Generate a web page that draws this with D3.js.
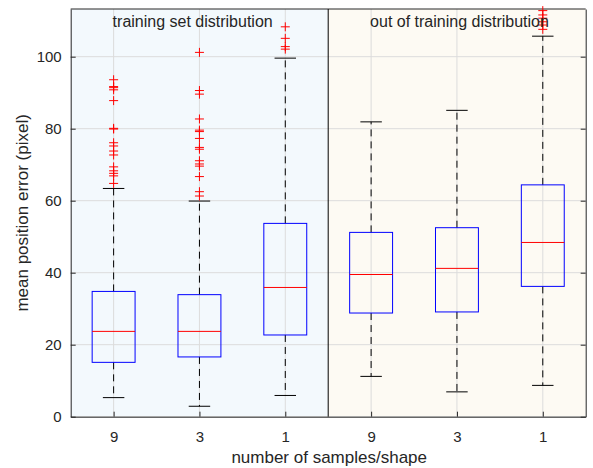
<!DOCTYPE html>
<html>
<head>
<meta charset="utf-8">
<script src="https://cdn.jsdelivr.net/npm/d3@7"></script>
<style>
  body { margin: 0; background: #fff; }
  text { font-family: "Liberation Sans", Arial, sans-serif; fill: #262626; }
</style>
</head>
<body>
<svg id="chart"></svg>
<script>
// tick labels along x (samples per shape), one per box
var categories = ["9", "3", "1", "9", "3", "1"];

// box statistics
var q1      = [15.1, 16.6, 22.7, 28.8, 29.1, 36.2];
var median  = [23.7, 23.7, 35.9, 39.5, 41.2, 48.4];
var q3      = [34.8, 33.9, 53.7, 51.2, 52.5, 64.4];
var whiskLo = [5.3, 2.9, 5.9, 11.2, 6.9, 8.7];
var whiskHi = [63.4, 59.9, 99.6, 81.9, 85.1, 105.7];

// outliers per box
var outliers = [
  [93.6, 91.7, 91.4, 90.8, 87.8, 80.1, 79.9, 76.1, 75.2, 73.8, 72.7, 69.4, 68.3, 67.6, 66.9, 64.8],
  [101.2, 90.6, 89.6, 82.7, 79.6, 79.2, 77.3, 74.8, 74.3, 71.1, 70.2, 69.6, 66.7, 62.5, 61.3],
  [108.3, 105.1, 102.8, 102.1],
  [],
  [],
  [112.8, 111.6, 110.7, 109.7, 108.8, 107.6]
];

var regionLabels = ["training set distribution", "out of training distribution"];
var yTicks = [0, 20, 40, 60, 80, 100];

var W = 593, H = 468;
var m = {left: 70.7, right: 7.3, top: 9, bottom: 51.3};

var svg = d3.select("#chart").attr("width", W).attr("height", H);

var x = d3.scaleLinear().domain([0.5, 6.5]).range([m.left, W - m.right]);
var y = d3.scaleLinear().domain([0, 113.25]).range([H - m.bottom, m.top]);

var g = svg.append("g");

// region backgrounds
g.append("rect")
  .attr("x", x(0.5)).attr("y", y(113.25))
  .attr("width", x(3.5) - x(0.5)).attr("height", y(0) - y(113.25))
  .attr("fill", "#f3f9fd");
g.append("rect")
  .attr("x", x(3.5)).attr("y", y(113.25))
  .attr("width", x(6.5) - x(3.5)).attr("height", y(0) - y(113.25))
  .attr("fill", "#fdfaf3");

// grid
g.selectAll(".hgrid").data(yTicks).enter().append("line")
  .attr("x1", x(0.5)).attr("x2", x(6.5))
  .attr("y1", function(d){ return y(d); }).attr("y2", function(d){ return y(d); })
  .attr("stroke", "#dcdcdc").attr("stroke-width", 1);
g.selectAll(".vgrid").data(categories).enter().append("line")
  .attr("x1", function(d, i){ return x(i + 1); }).attr("x2", function(d, i){ return x(i + 1); })
  .attr("y1", y(0)).attr("y2", y(113.25))
  .attr("stroke", "#dcdcdc").attr("stroke-width", 1);

// axes
var xAxis = d3.axisBottom(x).tickValues([1, 2, 3, 4, 5, 6])
  .tickFormat(function(d){ return categories[d - 1]; })
  .tickSizeInner(-5).tickSizeOuter(0).tickPadding(15);
var yAxis = d3.axisLeft(y).tickValues(yTicks)
  .tickSizeInner(-5).tickSizeOuter(0).tickPadding(9);

var gx = svg.append("g").attr("transform", "translate(0," + y(0) + ")").call(xAxis);
var gy = svg.append("g").attr("transform", "translate(" + x(0.5) + ",0)").call(yAxis);
var gr = svg.append("g").attr("transform", "translate(" + x(6.5) + ",0)")
  .call(d3.axisRight(y).tickValues(yTicks).tickSizeInner(-5).tickSizeOuter(0).tickFormat(""));
[gx, gy, gr].forEach(function(a){
  a.selectAll("path").attr("stroke", "#262626");
  a.selectAll("line").attr("stroke", "#262626");
  a.selectAll("text").style("font-size", "15px").attr("fill", "#262626");
});
svg.append("line")
  .attr("x1", x(0.5)).attr("x2", x(6.5)).attr("y1", y(113.25)).attr("y2", y(113.25))
  .attr("stroke", "#262626");
// divider between the two regions
svg.append("line")
  .attr("x1", x(3.5)).attr("x2", x(3.5)).attr("y1", y(0)).attr("y2", y(113.25))
  .attr("stroke", "#000").attr("stroke-width", 1);

// boxes
var bw = 0.5, cw = 0.25;
var boxes = svg.append("g").selectAll("g").data(categories).enter().append("g");

boxes.append("line")
  .attr("x1", function(d, i){ return x(i + 1); }).attr("x2", function(d, i){ return x(i + 1); })
  .attr("y1", function(d, i){ return y(q3[i]); }).attr("y2", function(d, i){ return y(whiskHi[i]); })
  .attr("stroke", "#000").attr("stroke-dasharray", "7,5");
boxes.append("line")
  .attr("x1", function(d, i){ return x(i + 1); }).attr("x2", function(d, i){ return x(i + 1); })
  .attr("y1", function(d, i){ return y(q1[i]); }).attr("y2", function(d, i){ return y(whiskLo[i]); })
  .attr("stroke", "#000").attr("stroke-dasharray", "7,5");
[whiskHi, whiskLo].forEach(function(arr){
  boxes.append("line")
    .attr("x1", function(d, i){ return x(i + 1 - cw / 2); }).attr("x2", function(d, i){ return x(i + 1 + cw / 2); })
    .attr("y1", function(d, i){ return y(arr[i]); }).attr("y2", function(d, i){ return y(arr[i]); })
    .attr("stroke", "#000");
});
boxes.append("rect")
  .attr("x", function(d, i){ return x(i + 1 - bw / 2); })
  .attr("width", x(1 + bw) - x(1))
  .attr("y", function(d, i){ return y(q3[i]); })
  .attr("height", function(d, i){ return y(q1[i]) - y(q3[i]); })
  .attr("fill", "none").attr("stroke", "#0000ff").attr("stroke-width", 1);
boxes.append("line")
  .attr("x1", function(d, i){ return x(i + 1 - bw / 2); }).attr("x2", function(d, i){ return x(i + 1 + bw / 2); })
  .attr("y1", function(d, i){ return y(median[i]); }).attr("y2", function(d, i){ return y(median[i]); })
  .attr("stroke", "#ff0000");

// outliers as '+'
var pts = [];
outliers.forEach(function(arr, i){ arr.forEach(function(v){ pts.push({i: i, v: v}); }); });
var plus = svg.append("g").selectAll("path").data(pts).enter().append("path")
  .attr("d", function(p){
    var cx = x(p.i + 1), cy = y(p.v), r = 4.5;
    return "M" + (cx - r) + "," + cy + "H" + (cx + r) + "M" + cx + "," + (cy - r) + "V" + (cy + r);
  })
  .attr("stroke", "#ff0000").attr("stroke-width", 1).attr("fill", "none");

// region labels
regionLabels.forEach(function(t, k){
  svg.append("text").attr("x", x(1 + 3 * k) - 1).attr("y", 27)
    .style("font-size", "16px").text(t);
});

// axis titles
svg.append("text").attr("x", x(3.5) + 1).attr("y", 463)
  .attr("text-anchor", "middle").style("font-size", "17px")
  .text("number of samples/shape");
svg.append("text")
  .attr("transform", "translate(28," + ((y(0) + y(113.25)) / 2) + ") rotate(-90)")
  .attr("text-anchor", "middle").style("font-size", "17px")
  .text("mean position error (pixel)");
</script>
</body>
</html>
